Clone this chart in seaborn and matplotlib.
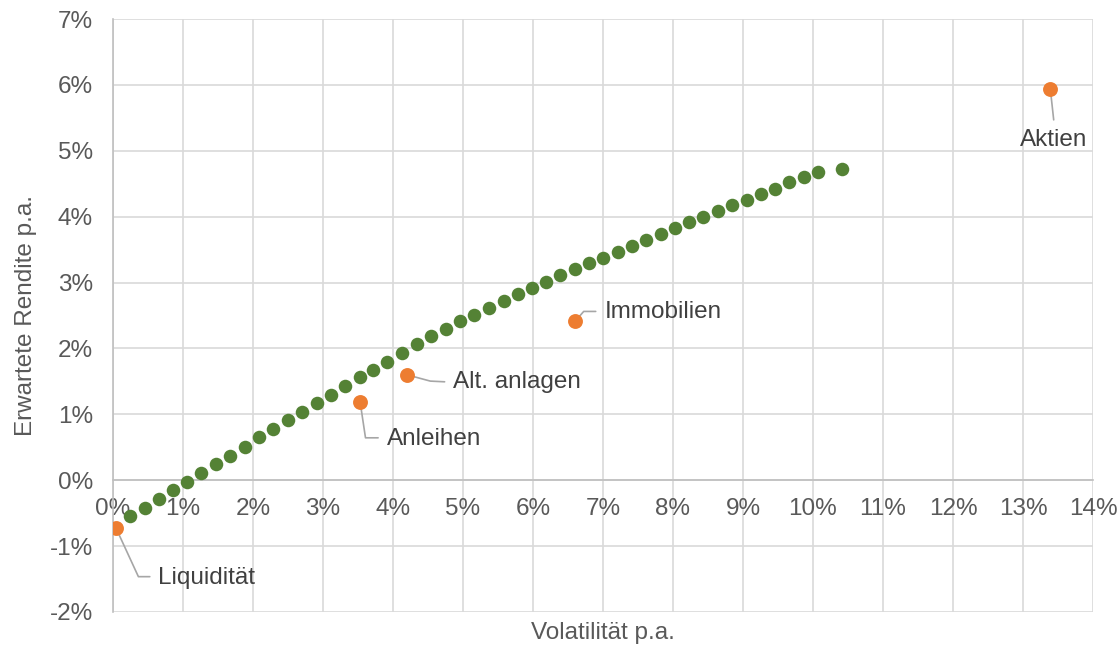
import pandas as pd
import matplotlib.pyplot as plt
import seaborn as sns
from matplotlib.ticker import MultipleLocator, FuncFormatter

# Efficient frontier (volatility %, expected return %)
frontier_vol = [0.24, 0.45, 0.65, 0.85, 1.06, 1.26, 1.47, 1.67, 1.88, 2.09,
                2.29, 2.50, 2.70, 2.91, 3.11, 3.31, 3.53, 3.72, 3.92, 4.13,
                4.34, 4.54, 4.75, 4.96, 5.16, 5.37, 5.58, 5.78, 5.98, 6.19,
                6.39, 6.60, 6.80, 7.00, 7.21, 7.42, 7.62, 7.83, 8.03, 8.23,
                8.43, 8.64, 8.84, 9.05, 9.25, 9.46, 9.66, 9.87, 10.07, 10.42]
frontier_ret = [-0.55, -0.42, -0.29, -0.15, -0.02, 0.11, 0.24, 0.37, 0.51, 0.65,
                0.77, 0.91, 1.04, 1.17, 1.30, 1.43, 1.56, 1.68, 1.80, 1.93,
                2.06, 2.19, 2.30, 2.41, 2.51, 2.62, 2.72, 2.82, 2.91, 3.01,
                3.11, 3.20, 3.29, 3.37, 3.47, 3.56, 3.65, 3.73, 3.83, 3.92,
                4.00, 4.08, 4.17, 4.26, 4.34, 4.42, 4.52, 4.60, 4.68, 4.72]

# Asset classes
asset_names = ['Liquidität', 'Anleihen', 'Alt. anlagen', 'Immobilien', 'Aktien']
asset_vol = [0.04, 3.53, 4.20, 6.60, 13.39]
asset_ret = [-0.72, 1.19, 1.60, 2.41, 5.94]

# leader line layout in pixels: (elbow dx, elbow dy, end dx, end dy, text dx, text dy, ha)
leaders = {
    'Liquidität': (22.6, 49, 34, 49, 42, 50, 'left'),
    'Anleihen': (5.4, 36, 18, 36, 26.4, 37, 'left'),
    'Alt. anlagen': (23.3, 6.3, 37.6, 7, 46, 7.5, 'left'),
    'Immobilien': (8.7, -10, 20.7, -10, 29.7, -9, 'left'),
    'Aktien': (3.4, 31, 3.4, 31, 3.7, 51, 'center'),
}

df_front = pd.DataFrame({'vol': frontier_vol, 'ret': frontier_ret})
df_assets = pd.DataFrame({'name': asset_names, 'vol': asset_vol, 'ret': asset_ret})

sns.set_style('white')
plt.rcParams['font.family'] = ['Liberation Sans', 'DejaVu Sans']
FS = 17.5

fig = plt.figure(figsize=(11.17, 6.47), dpi=100)
ax = fig.add_axes([113 / 1117, 1 - 612 / 647, (1093 - 113) / 1117, (612 - 19) / 647])

sns.scatterplot(data=df_front, x='vol', y='ret', ax=ax, color='#548235',
                s=95, linewidth=0, zorder=3)
sns.scatterplot(data=df_assets, x='vol', y='ret', ax=ax, color='#ED7D31',
                s=115, linewidth=0, zorder=4)

ax.set_xlim(0, 14)
ax.set_ylim(-2, 7)
ax.xaxis.set_major_locator(MultipleLocator(1))
ax.yaxis.set_major_locator(MultipleLocator(1))
pct = FuncFormatter(lambda v, _: f'{v:.0f}%')
ax.xaxis.set_major_formatter(pct)
ax.yaxis.set_major_formatter(pct)
ax.grid(True, color='#d9d9d9', linewidth=1.2, zorder=0)
ax.set_axisbelow(True)

for side in ['top', 'right']:
    ax.spines[side].set_visible(False)
ax.spines['bottom'].set_position(('data', 0))
ax.spines['bottom'].set_color('#bfbfbf')
ax.spines['left'].set_color('#bfbfbf')
ax.spines['bottom'].set_linewidth(1.2)
ax.spines['left'].set_linewidth(1.2)
ax.tick_params(axis='x', direction='inout', length=9, width=1.2, color='#bfbfbf',
               labelsize=FS, labelcolor='#595959', pad=8.6)
ax.tick_params(axis='y', direction='inout', length=9, width=1.2, color='#bfbfbf',
               labelsize=FS, labelcolor='#595959', pad=10)

ax.set_xlabel('Volatilität p.a.', fontsize=FS, color='#595959', va='center')
ax.set_ylabel('Erwartete Rendite p.a.', fontsize=FS, color='#595959', va='center')
ax.xaxis.set_label_coords(0.5, -(633 - 612) / 593)
ax.yaxis.set_label_coords(-(113 - 26) / 980, 0.5)

# leader lines and labels
fig.canvas.draw()
p0 = ax.transData.transform((0, 0))
px_x = ax.transData.transform((1, 0))[0] - p0[0]
px_y = ax.transData.transform((0, 1))[1] - p0[1]
for name, x, y in zip(asset_names, asset_vol, asset_ret):
    ex, ey, fx, fy, tx, ty, ha = leaders[name]
    xs = [x, x + ex / px_x, x + fx / px_x]
    ys = [y, y - ey / px_y, y - fy / px_y]
    ax.plot(xs, ys, color='#a6a6a6', linewidth=1.2, zorder=2, clip_on=False)
    ax.text(x + tx / px_x, y - ty / px_y, name, fontsize=FS, color='#404040',
            ha=ha, va='center', zorder=5)

plt.savefig('out.png', dpi=100)
